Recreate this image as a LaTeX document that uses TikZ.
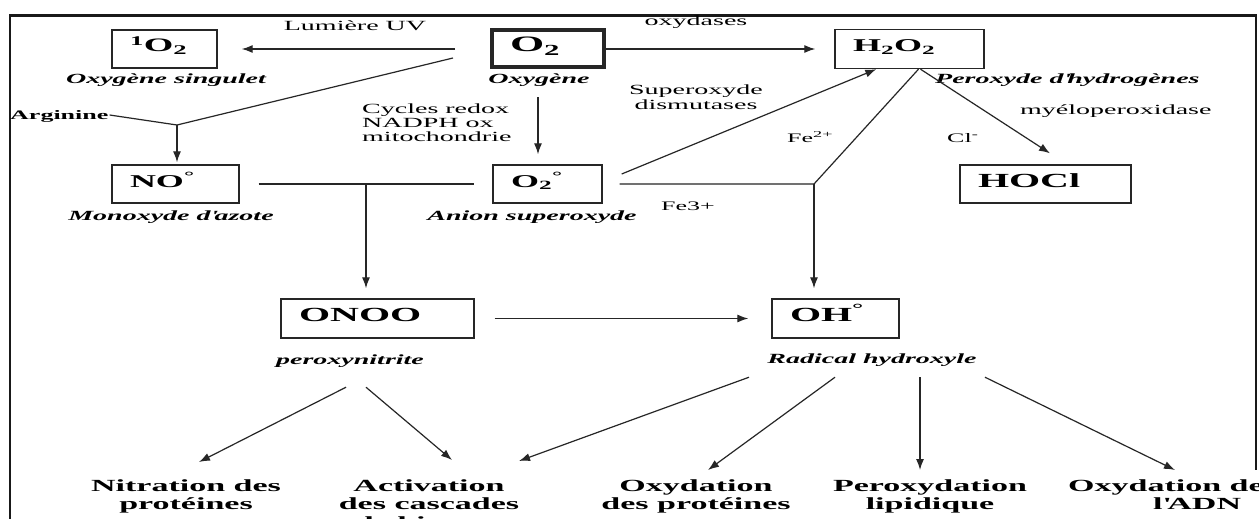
\documentclass[tikz,border=0pt]{standalone}
\usepackage{fontspec}
\setmainfont{Liberation Serif}[FakeStretch=2]
\usetikzlibrary{arrows.meta,calc}
\begin{document}
\begin{tikzpicture}[x=1pt,y=-1pt,
  line/.style={draw=black!85,line width=1.2pt},
  arr/.style={line,-{Latex[length=11pt,width=8pt]}},
  box/.style={draw=black!85,line width=1.4pt,inner xsep=18pt,inner ysep=0pt,align=left,
    text height=14pt,text depth=8pt,font=\bfseries\fontsize{20}{22}\selectfont},
  lab/.style={inner sep=0pt,font=\fontsize{14}{15}\selectfont},
  smalllab/.style={inner sep=0pt,font=\fontsize{13}{14}\selectfont},
  ital/.style={inner sep=0pt,font=\bfseries\itshape\fontsize{14}{15}\selectfont},
  res/.style={inner sep=0pt,align=center,font=\bfseries\fontsize{17}{18}\selectfont},
]
\path[use as bounding box] (0,0) rectangle (1259,519);
\clip (0,0) rectangle (1259,519);
\fill[white] (0,0) rectangle (1259,519);
% frame
\draw[line width=2.6pt,black!90] (10,530) -- (10,15.3) -- (1256,15.3) -- (1256,470);

% boxes
\node[box,text width=69pt,minimum height=38pt,font=\bfseries\fontsize{19}{21}\selectfont] (sO2) at (164.5,49) {\textsuperscript{1}O\textsubscript{2}};
\node[box,line width=4pt,text width=76pt,minimum height=37pt,font=\bfseries\fontsize{22}{24}\selectfont] (O2) at (548,49) {O\textsubscript{2}};
\node[box,text width=113pt,minimum height=39pt,font=\bfseries\fontsize{18}{20}\selectfont] (H2O2) at (909.5,49) {H\textsubscript{2}O\textsubscript{2}};
\node[box,text width=91pt,minimum height=38pt,font=\bfseries\fontsize{18}{20}\selectfont] (NO) at (175.5,184) {NO\textsuperscript{°}};
\node[box,text width=73pt,minimum height=38pt,font=\bfseries\fontsize{18}{20}\selectfont] (O2m) at (547.5,184) {O\textsubscript{2}\textsuperscript{°}};
\node[box,text width=135pt,minimum height=38pt] (HOCl) at (1045.5,184) {HOCl};
\node[box,text width=157pt,minimum height=39pt] (ONOO) at (377.5,318.5) {ONOO};
\node[box,text width=91pt,minimum height=39pt] (OH) at (835.5,318.5) {OH\textsuperscript{°}};

% labels
\node[lab,anchor=base] (uv) at (355,31) {Lumière UV};
\node[lab,anchor=base] (oxyd) at (696,26) {oxydases};
\node[ital,anchor=base] (sing) at (166,84) {Oxygène singulet};
\node[ital,anchor=base] (oxy) at (539,84) {Oxygène};
\node[lab,anchor=north,align=center] (sod) at (696,85) {Superoxyde\\dismutases};
\node[lab,anchor=north west,align=left,font=\fontsize{14}{14}\selectfont] (cyc) at (362,104) {Cycles redox\\NADPH ox\\mitochondrie};
\node[inner sep=0pt,anchor=base west,font=\bfseries\fontsize{13}{14}\selectfont] (arg) at (10,119) {Arginine};
\node[smalllab,anchor=base west] (fe2) at (787,142) {Fe\textsuperscript{2+}};
\node[smalllab,anchor=base west] (fe3) at (661,210) {Fe3+};
\node[smalllab,anchor=base west] (cl) at (947,142) {Cl\textsuperscript{\bfseries -}};
\node[lab,anchor=base west] (myelo) at (1020,114) {myéloperoxidase};
\node[ital,anchor=base west] (perhyd) at (935,84) {Peroxyde d\textquotesingle hydrogènes};
\node[ital,anchor=base] (mono) at (171,220) {Monoxyde d\textquotesingle azote};
\node[ital,anchor=base] (anion) at (532,220) {Anion superoxyde};
\node[ital,anchor=base] (peroxyn) at (350,364) {peroxynitrite};
\node[ital,anchor=base] (radical) at (872,363) {Radical hydroxyle};

% results
\node[res,anchor=north] (nitr) at (186,480) {Nitration des\\protéines};
\node[res,anchor=north] (activ) at (429,480) {Activation\\des cascades\\de kinases};
\node[res,anchor=north] (oxprot) at (696,480) {Oxydation\\des protéines};
\node[res,anchor=north] (perox) at (930,480) {Peroxydation\\lipidique};
\node[res,anchor=north west,align=left] (oxadn) at (1068,480) {Oxydation de\\\hspace*{85pt}l\textquotesingle ADN};

% junctions
\coordinate (J1) at (177,125);
\coordinate (J3) at (366,184);
\coordinate (J2) at (814,184);

% connectors
\draw[arr,shorten <=35pt,shorten >=24pt] (O2.west) -- (sO2.east);
\draw[arr,shorten >=19pt] (O2.east) -- (H2O2.west);
\draw[line] ($(O2.south west)+(-37,-11.5)$) -- (J1);
\draw[line] ($(arg.base east)+(1,-4)$) -- (J1);
\draw[arr,shorten >=2pt] (J1) -- (J1 |- NO.north);
\draw[arr,shorten >=10pt] ($(O2.south)+(-10,28)$) -- ($(O2m.north)+(-9.5,0)$);
\draw[line,shorten <=19pt,shorten >=18pt] (NO.east) -- (O2m.west);
\draw[arr,shorten >=10pt] (J3) -- (J3 |- ONOO.north);
\draw[arr] ($(O2m.east)+(19,-10)$) -- ($(H2O2.south west)+(42,0)$);
\draw[line] ($(O2m.east)+(17,0)$) -- (J2) -- ($(H2O2.south)+(9,0)$);
\draw[arr,shorten >=10pt] (J2) -- (J2 |- OH.north);
\draw[arr] ($(H2O2.south)+(11,0)$) -- ($(HOCl.north)+(4.5,-11)$);
\draw[arr,shorten <=20pt,shorten >=23pt] (ONOO.east) -- (OH.west);

\draw[arr] ($(peroxyn.south)+(-4,20)$) -- ($(nitr.north)+(13,-18)$);
\draw[arr] ($(peroxyn.south)+(16,20)$) -- ($(activ.north)+(23,-20)$);
\draw[arr] ($(radical.south)+(-123,11)$) -- ($(activ.north)+(90,-19)$);
\draw[arr] ($(radical.south)+(-37,11)$) -- ($(oxprot.north)+(12,-10)$);
\draw[arr] ($(radical.south)+(48,11)$) -- ($(perox.north)+(-10,-10)$);
\draw[arr] ($(radical.south)+(113,11)$) -- ($(oxadn.north west)+(107,-10)$);
\end{tikzpicture}
\end{document}
